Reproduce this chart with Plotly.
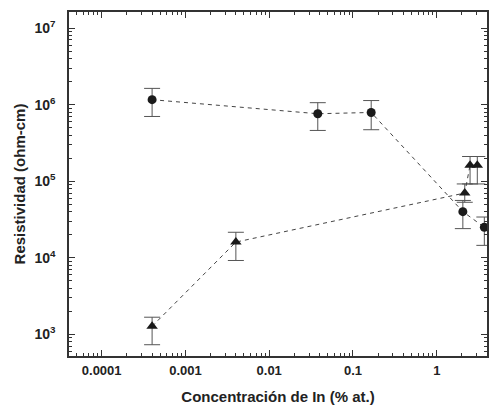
import plotly.graph_objects as go

# Circles series
circ_x = [0.0004, 0.038, 0.165, 2.05, 3.7]
circ_y = [1.16e6, 7.6e5, 7.9e5, 4.0e4, 2.5e4]
circ_hi = [1.63e6, 1.06e6, 1.13e6, 5.6e4, 3.4e4]
circ_lo = [7.0e5, 4.6e5, 4.7e5, 2.4e4, 1.45e4]

# Triangles series
tri_x = [0.0004, 0.004, 2.16, 2.5, 3.05]
tri_y = [1.27e3, 1.6e4, 7.0e4, 1.62e5, 1.62e5]
tri_hi = [1.67e3, 2.15e4, 9.2e4, 2.1e5, 2.1e5]
tri_lo = [7.3e2, 9.2e3, 5.3e4, 9.2e4, 9.2e4]

x_ticks = [0.0001, 0.001, 0.01, 0.1, 1]
x_ticktext = ["0.0001", "0.001", "0.01", "0.1", "1"]
y_ticks = [1e3, 1e4, 1e5, 1e6, 1e7]
y_ticktext = ["10<sup>3</sup>", "10<sup>4</sup>", "10<sup>5</sup>", "10<sup>6</sup>", "10<sup>7</sup>"]

LINE = "#444444"
MARK = "#1a1a1a"

def err(vals, bound, upper):
    return [(b - v) if upper else (v - b) for v, b in zip(vals, bound)]

fig = go.Figure()
fig.add_trace(go.Scatter(
    x=circ_x, y=circ_y, mode="lines+markers", cliponaxis=False,
    line=dict(color=LINE, width=1, dash="4px,4px"),
    marker=dict(symbol="circle", size=9, color=MARK),
    error_y=dict(type="data", symmetric=False,
                 array=err(circ_y, circ_hi, True),
                 arrayminus=err(circ_y, circ_lo, False),
                 color="#555555", thickness=1, width=8),
    showlegend=False))
fig.add_trace(go.Scatter(
    x=tri_x, y=tri_y, mode="lines+markers", cliponaxis=False,
    line=dict(color=LINE, width=1, dash="4px,4px"),
    marker=dict(symbol="triangle-up", size=10, color=MARK),
    error_y=dict(type="data", symmetric=False,
                 array=err(tri_y, tri_hi, True),
                 arrayminus=err(tri_y, tri_lo, False),
                 color="#555555", thickness=1, width=8),
    showlegend=False))

xminor = [m * 10 ** e for e in range(-5, 1) for m in range(2, 10)]
yminor = [m * 10 ** e for e in range(2, 8) for m in range(2, 10)]

axis_common = dict(
    type="log", showgrid=False, zeroline=False, automargin=False,
    showline=True, linecolor="#333333", linewidth=1.5, mirror="allticks",
    ticks="inside", ticklen=6, tickwidth=1, tickcolor="#333333",
)

fig.update_xaxes(
    **axis_common,
    range=[-4.39, 0.6],
    tickvals=x_ticks, ticktext=x_ticktext,
    ticklabelstandoff=2,
    tickfont=dict(family="Liberation Sans, Arial", size=13, color="#222222", weight="bold"),
    minor=dict(tickvals=xminor, ticks="inside", ticklen=3, tickcolor="#333333", showgrid=False),
    title=dict(text="Concentración de In (% at.)", standoff=14,
               font=dict(family="Liberation Sans, Arial", size=15, color="#222222", weight="bold")),
)
fig.update_yaxes(
    **axis_common,
    range=[2.716, 7.21],
    tickvals=y_ticks, ticktext=y_ticktext,
    ticklabelstandoff=9,
    tickfont=dict(family="Liberation Sans, Arial", size=14, color="#222222", weight="bold"),
    minor=dict(tickvals=yminor, ticks="inside", ticklen=3, tickcolor="#333333", showgrid=False),
    title=dict(text="Resistividad (ohm-cm)", standoff=5,
               font=dict(family="Liberation Sans, Arial", size=15, color="#222222", weight="bold")),
)

fig.update_layout(
    width=492, height=412,
    margin=dict(l=69, r=5, t=12, b=56),
    plot_bgcolor="white", paper_bgcolor="white",
)

fig.write_html("out.html", config={"displayModeBar": False},
               post_script="document.body.style.margin='0px';document.body.style.overflow='hidden';")
